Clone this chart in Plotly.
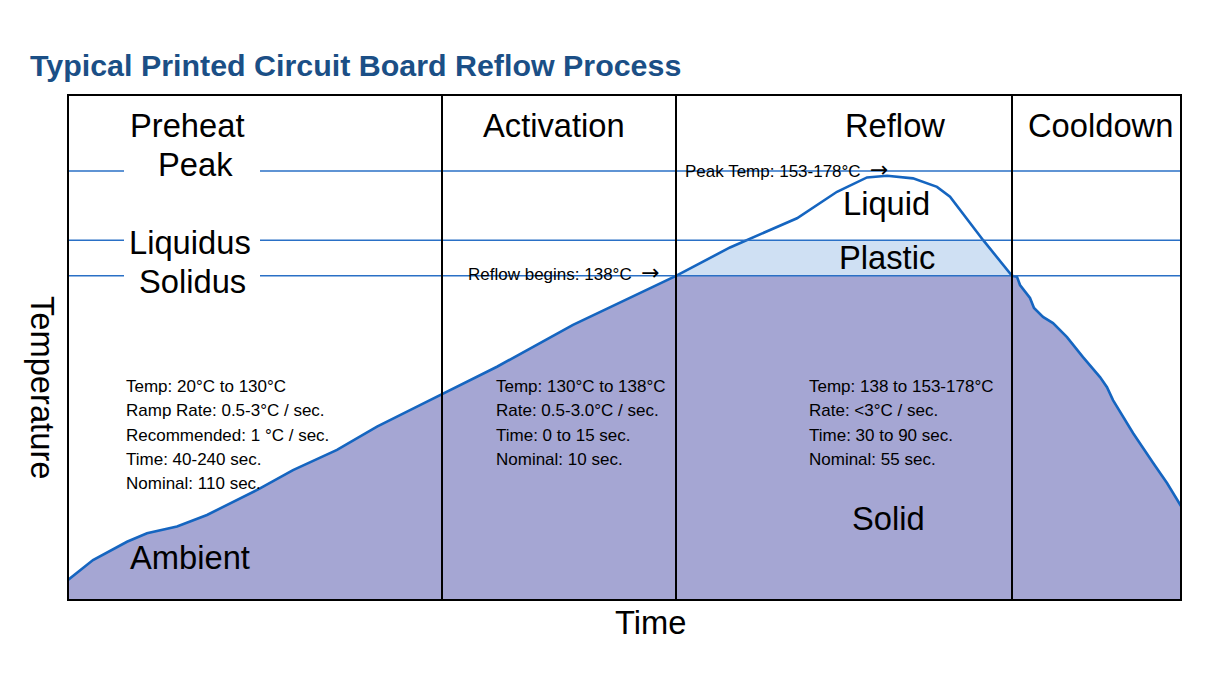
import plotly.graph_objects as go

# ---------------- data (time in arbitrary units, temperature in °C) ----------------
time = [0, 25, 59, 79, 109, 139, 192, 225, 269, 309, 352, 372, 429, 505, 575, 608,
        662, 679, 729, 769, 799, 819, 845, 869, 882, 915, 942, 944, 949, 952, 962,
        966, 975, 985, 999, 1015, 1032, 1039, 1045, 1065, 1085, 1099, 1113]
temp = [8.5, 17.0, 24.8, 28.4, 31.3, 36.2, 47.5, 55.3, 63.9, 73.8, 83.0, 87.3, 99.3,
        117.1, 131.2, 138.0, 150.1, 153.3, 162.5, 173.8, 179.9, 180.6, 179.5, 175.9,
        171.7, 153.3, 139.4, 138.0, 137.6, 134.1, 128.6, 124.3, 120.5, 117.9, 111.9,
        103.4, 94.9, 90.6, 85.1, 71.1, 58.4, 49.8, 40.0]

zone_names = ["Preheat", "Activation", "Reflow", "Cooldown"]
zone_edges = [0, 374, 608, 944, 1113]
zone_label_x = [119, 486, 827, 1032]

solidus = 138.0
liquidus = 153.2
peak = 182.6
t_max = 1113
T_max = 215.0

preheat_info = ["Temp: 20°C to 130°C", "Ramp Rate: 0.5-3°C / sec.",
                "Recommended: 1 °C / sec.", "Time: 40-240 sec.", "Nominal: 110 sec."]
activation_info = ["Temp: 130°C to 138°C", "Rate: 0.5-3.0°C / sec.",
                   "Time: 0 to 15 sec.", "Nominal: 10 sec."]
reflow_info = ["Temp: 138 to 153-178°C", "Rate: <3°C / sec.",
               "Time: 30 to 90 sec.", "Nominal: 55 sec."]
info_x = [56, 426, 739]
info_line_T = [91.1, 80.5, 70.2, 60.0, 49.4]

CURVE = "#1565c0"
HLINE = "#2a70c6"
LAV = "#a5a6d3"
PLASTIC = "#cfe0f3"

fig = go.Figure()

# solid region (under curve)
fig.add_trace(go.Scatter(x=time, y=temp, mode="lines", line=dict(width=0),
                         fill="tozeroy", fillcolor=LAV, hoverinfo="skip", showlegend=False))
# plastic band in reflow zone
r0, r1 = zone_edges[2], zone_edges[3]
fig.add_trace(go.Scatter(x=[r0, r1, r1, r0], y=[solidus, solidus, liquidus, liquidus],
                         mode="lines", line=dict(width=0), fill="toself", fillcolor=PLASTIC,
                         hoverinfo="skip", showlegend=False))
# liquid region (white) above liquidus in reflow zone
fig.add_trace(go.Scatter(x=[r0, r1, r1, r0], y=[liquidus, liquidus, T_max, T_max],
                         mode="lines", line=dict(width=0), fill="toself", fillcolor="white",
                         hoverinfo="skip", showlegend=False))
# white above curve in reflow zone
sub = [(t, v) for t, v in zip(time, temp) if r0 <= t <= r1]
px_ = [p[0] for p in sub] + [r1, r0]
py_ = [p[1] for p in sub] + [T_max, T_max]
fig.add_trace(go.Scatter(x=px_, y=py_, mode="lines", line=dict(width=0), fill="toself",
                         fillcolor="white", hoverinfo="skip", showlegend=False))
# profile curve
fig.add_trace(go.Scatter(x=time, y=temp, mode="lines", line=dict(color=CURVE, width=2.6),
                         hoverinfo="skip", showlegend=False))

shapes = []
gap0, gap1 = 56, 192
for lvl in [peak, liquidus, solidus]:
    shapes.append(dict(type="line", xref="x", yref="y", x0=0, x1=gap0, y0=lvl, y1=lvl,
                       line=dict(color=HLINE, width=1.5), layer="above"))
    shapes.append(dict(type="line", xref="x", yref="y", x0=gap1, x1=t_max, y0=lvl, y1=lvl,
                       line=dict(color=HLINE, width=1.5), layer="above"))
for e in zone_edges[1:-1]:
    shapes.append(dict(type="line", xref="x", yref="y", x0=e, x1=e, y0=0, y1=T_max,
                       line=dict(color="black", width=2), layer="above"))
shapes.append(dict(type="rect", xref="paper", yref="paper", x0=0, x1=1, y0=0, y1=1,
                   line=dict(color="black", width=2), layer="above"))

ann = []
BIG = dict(family="Liberation Sans, Arial, sans-serif", size=32.7, color="black")
SMALL = dict(family="Liberation Sans, Arial, sans-serif", size=17, color="black")
ARROW = '<span style="font-family:DejaVu Sans;font-size:22px">→</span>'

for name, x in zip(zone_names, zone_label_x):
    ann.append(dict(x=x, y=202.2, text=name, showarrow=False, font=BIG,
                    xanchor="center", yanchor="middle"))
for txt, x, y in [("Peak", 127, 185.6), ("Liquidus", 122, 152.4), ("Solidus", 124, 135.4),
                  ("Ambient", 122, 17.9), ("Liquid", 818, 168.6), ("Plastic", 819, 146.0),
                  ("Solid", 820, 34.5)]:
    ann.append(dict(x=x, y=y, text=txt, showarrow=False, font=BIG,
                    xanchor="center", yanchor="middle"))

for lines, x in zip([preheat_info, activation_info, reflow_info], info_x):
    for txt, y in zip(lines, info_line_T):
        ann.append(dict(x=x, y=y, text=txt, showarrow=False, font=SMALL,
                        xanchor="left", yanchor="middle"))

ann.append(dict(x=398, y=139.6, text="Reflow begins: 138°C  " + ARROW, showarrow=False,
                font=SMALL, xanchor="left", yanchor="middle"))
ann.append(dict(x=615, y=183.1, text="Peak Temp: 153-178°C  " + ARROW, showarrow=False,
                font=SMALL, xanchor="left", yanchor="middle"))

ann.append(dict(xref="paper", yref="paper", x=-0.0234, y=0.42, text="Temperature",
                textangle=90, showarrow=False, font=BIG, xanchor="center", yanchor="middle"))
ann.append(dict(xref="paper", yref="paper", x=0.5238, y=-0.0436, text="Time",
                showarrow=False, font=BIG, xanchor="center", yanchor="middle"))

fig.update_layout(
    width=1220, height=686,
    margin=dict(l=68, r=39, t=95, b=86),
    paper_bgcolor="white", plot_bgcolor="white",
    title=dict(text="Typical Printed Circuit Board Reflow Process",
               x=30 / 1220, xref="container", xanchor="left",
               y=1 - 65 / 686, yref="container", yanchor="middle",
               font=dict(family="Liberation Sans, Arial, sans-serif",
                         size=30.4, color="#1b4f86", weight="bold")),
    xaxis=dict(range=[0, t_max], visible=False, fixedrange=True),
    yaxis=dict(range=[0, T_max], visible=False, fixedrange=True),
    shapes=shapes, annotations=ann, showlegend=False,
)

fig.write_html("out.html")
